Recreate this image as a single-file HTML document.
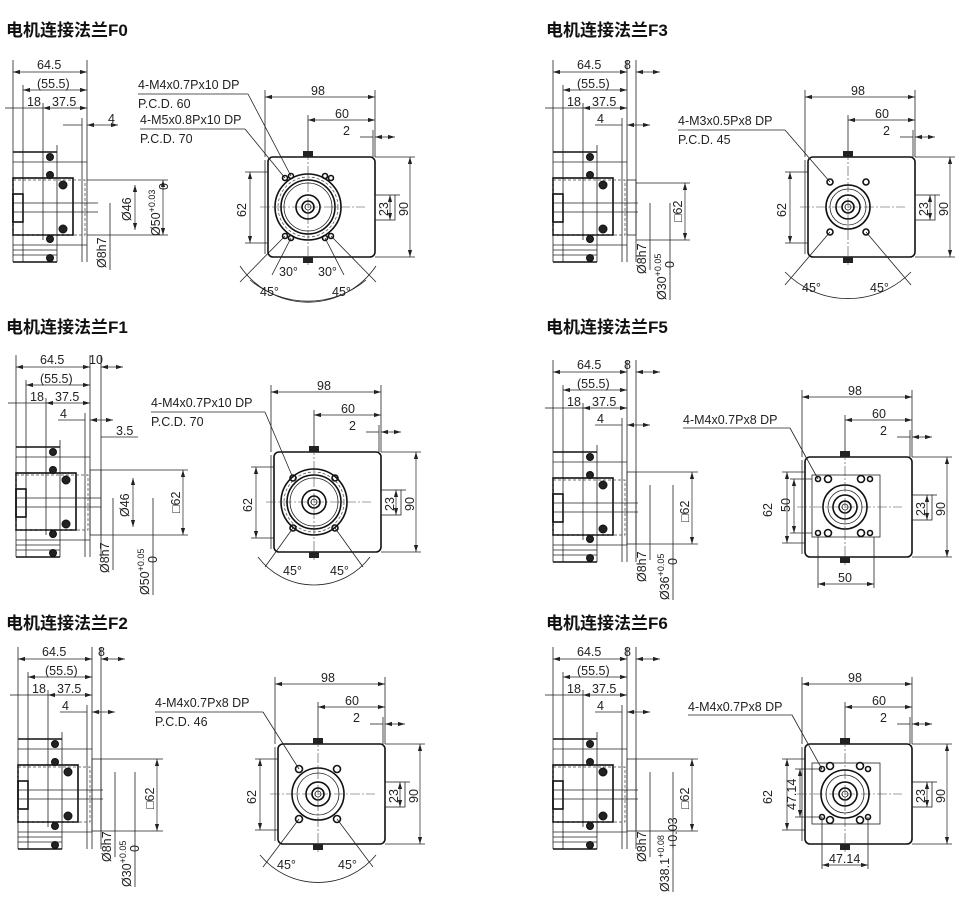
<!DOCTYPE html>
<html><head><meta charset="utf-8"><style>
html,body{margin:0;padding:0;background:#fff;}
svg{display:block;}
text{font-family:"Liberation Sans","Noto Sans CJK SC",sans-serif;font-size:12.5px;fill:#222;}
.t{font-size:17px;font-weight:bold;fill:#111;font-family:"Liberation Sans","Noto Sans CJK SC",sans-serif;}
.l{stroke:#222;stroke-width:0.8;fill:none;}
.h{stroke:#111;stroke-width:1.6;fill:none;}
.d{stroke:#444;stroke-width:0.7;fill:none;stroke-dasharray:3 2;}
.c{stroke:#444;stroke-width:0.6;fill:none;stroke-dasharray:10 2 2 2;}
.a{stroke:#222;stroke-width:0.7;fill:none;marker-start:url(#ar);marker-end:url(#ar);}
.s{fill:#222;stroke:#111;stroke-width:1;}
</style></head><body>
<svg width="978" height="906" viewBox="0 0 978 906" xmlns="http://www.w3.org/2000/svg">
<defs>
<marker id="ar" viewBox="0 0 10 10" refX="10" refY="5" markerWidth="7" markerHeight="7" orient="auto-start-reverse" markerUnits="userSpaceOnUse"><path d="M0,2 L10,5 L0,8z" fill="#222"/></marker>
<g id="side">
 <line class="l" x1="13" y1="60" x2="13" y2="262"/>
 <line class="l" x1="87" y1="60" x2="87" y2="262"/>
 <line class="l" x1="23" y1="85" x2="23" y2="262"/>
 <line class="l" x1="43" y1="103" x2="43" y2="240"/>
 <line class="l" x1="82" y1="118" x2="82" y2="262"/>
 <line class="a" x1="13" y1="72" x2="87" y2="72"/>
 <line class="a" x1="23" y1="90" x2="87" y2="90"/>
 <line class="l" x1="5" y1="108" x2="13" y2="108"/>
 <line class="a" x1="43" y1="108" x2="87" y2="108"/>
 <line class="l" x1="13" y1="108" x2="43" y2="108"/>
 <line class="h" x1="13" y1="152" x2="57" y2="152"/>
 <line class="l" x1="13" y1="162" x2="87" y2="162"/>
 <rect class="h" x="13" y="178" width="60" height="57"/>
 <rect class="d" x="13" y="180" width="72" height="55"/>
 <rect class="h" x="13" y="194" width="10" height="28"/>
 <line class="l" x1="13" y1="203" x2="98" y2="203"/>
 <line class="l" x1="13" y1="212" x2="98" y2="212"/>
 <circle class="s" cx="50" cy="157" r="3.5"/><circle class="s" cx="50" cy="175" r="3.5"/><circle class="s" cx="63" cy="185" r="4"/>
 <circle class="s" cx="63" cy="229" r="4"/><circle class="s" cx="50" cy="239" r="3.5"/><circle class="s" cx="50" cy="258" r="3.5"/>
 <line class="l" x1="13" y1="245" x2="87" y2="245"/>
 <line class="l" x1="13" y1="250" x2="57" y2="250"/>
 <line class="l" x1="13" y1="255" x2="57" y2="255"/>
 <line class="h" x1="13" y1="262" x2="57" y2="262"/>
 <line class="l" x1="57" y1="145" x2="57" y2="262"/>
</g>
<g id="box">
 <rect class="h" x="268" y="157" width="107" height="100" rx="5"/>
 <line class="l" x1="265" y1="160" x2="265" y2="254"/>
 <rect class="l" x="375" y="195" width="20" height="25"/>
 <line class="l" x1="265" y1="90" x2="265" y2="157"/>
 <line class="l" x1="375" y1="90" x2="375" y2="157"/>
 <line class="a" x1="265" y1="97" x2="375" y2="97"/>
 <line class="l" x1="308" y1="115" x2="308" y2="157"/>
 <line class="a" x1="308" y1="120" x2="375" y2="120"/>
 <line class="l" x1="373" y1="130" x2="373" y2="157"/>
 <line class="l" x1="360" y1="137" x2="373" y2="137"/>
 <line class="a" x1="395" y1="137" x2="375" y2="137"/>
 <line class="l" x1="375" y1="157" x2="415" y2="157"/>
 <line class="l" x1="375" y1="257" x2="415" y2="257"/>
 <line class="a" x1="410" y1="157" x2="410" y2="257"/>
 <line class="l" x1="395" y1="195" x2="400" y2="195"/>
 <line class="a" x1="390" y1="195" x2="390" y2="220"/>
 <line class="l" x1="245" y1="172" x2="268" y2="172"/>
 <line class="l" x1="245" y1="243" x2="268" y2="243"/>
 <line class="a" x1="250" y1="172" x2="250" y2="243"/>
 <line class="c" x1="260" y1="207" x2="365" y2="207"/>
 <line class="c" x1="308" y1="150" x2="308" y2="265"/>
 <rect x="303" y="151" width="10" height="6" fill="#222"/>
 <rect x="303" y="257" width="10" height="6" fill="#222"/>
 <circle class="h" cx="308" cy="207" r="12"/><circle class="h" cx="308" cy="207" r="6"/>
 <circle class="l" cx="308" cy="207" r="3"/>
</g>
<g id="round">
 <circle class="h" cx="308" cy="207" r="33"/><circle class="h" cx="308" cy="207" r="27"/>
 <circle class="l" cx="308" cy="207" r="24"/>
 <circle class="d" cx="308" cy="207" r="30"/>
</g>
</defs>

<!-- F0 -->
<g>
<text class="t" x="6" y="36">电机连接法兰F0</text>
<use href="#side"/><use href="#box"/><use href="#round"/>
<text x="37" y="69">64.5</text><text x="37" y="88">(55.5)</text><text x="27" y="106">18</text><text x="52" y="106">37.5</text>
<line class="l" x1="63" y1="125" x2="82" y2="125"/><line class="a" x1="118" y1="125" x2="87" y2="125"/><text x="108" y="123">4</text>
<line class="l" x1="87" y1="180" x2="168" y2="180"/><line class="l" x1="87" y1="235" x2="168" y2="235"/>
<line class="a" x1="135" y1="185" x2="135" y2="230"/><line class="a" x1="163" y1="180" x2="163" y2="235"/>
<line class="l" x1="110" y1="203" x2="110" y2="270"/>
<text transform="translate(131,221) rotate(-90)">Ø46</text>
<text transform="translate(160,236) rotate(-90)">Ø50<tspan font-size="9" dy="-5">+0.03</tspan></text>
<text transform="translate(168,190) rotate(-90)" font-size="9">0</text>
<text transform="translate(106,268) rotate(-90)">Ø8h7</text>
<circle class="h" cx="285" cy="178" r="2.5"/><circle class="h" cx="331" cy="178" r="2.5"/><circle class="h" cx="285" cy="236" r="2.5"/><circle class="h" cx="331" cy="236" r="2.5"/>
<circle class="h" cx="291" cy="176" r="2.5"/><circle class="h" cx="325" cy="176" r="2.5"/><circle class="h" cx="291" cy="238" r="2.5"/><circle class="h" cx="325" cy="238" r="2.5"/>
<text x="138" y="89">4-M4x0.7Px10 DP</text><text x="138" y="108">P.C.D. 60</text>
<text x="140" y="124">4-M5x0.8Px10 DP</text><text x="140" y="143">P.C.D. 70</text>
<line class="l" x1="138" y1="94" x2="248" y2="94"/><line class="l" x1="248" y1="94" x2="291" y2="176"/>
<line class="l" x1="140" y1="129" x2="245" y2="129"/><line class="l" x1="245" y1="129" x2="285" y2="178"/>
<path class="l" d="M240,266 A82,82 0 0 0 376,266"/><path class="l" d="M250,280 A90,90 0 0 0 366,280"/>
<line class="l" x1="285" y1="236" x2="240" y2="282"/><line class="l" x1="331" y1="236" x2="376" y2="282"/>
<line class="l" x1="291" y1="238" x2="272" y2="275"/><line class="l" x1="325" y1="238" x2="344" y2="275"/>
<text x="279" y="276">30°</text><text x="318" y="276">30°</text><text x="260" y="296">45°</text><text x="332" y="296">45°</text>
<text x="311" y="95">98</text><text x="335" y="118">60</text><text x="343" y="135">2</text>
<text transform="translate(246,217) rotate(-90)">62</text><text transform="translate(388,216) rotate(-90)">23</text><text transform="translate(408,216) rotate(-90)">90</text>
</g>

<!-- F3 -->
<g transform="translate(540,0)">
<text class="t" x="6" y="36">电机连接法兰F3</text>
<use href="#side"/><use href="#box"/>
<line class="l" x1="96" y1="60" x2="96" y2="262"/>
<rect class="l" x="87" y="180" width="9" height="55"/>
<line class="a" x1="120" y1="72" x2="96" y2="72"/>
<text x="37" y="69">64.5</text><text x="84" y="69">8</text><text x="37" y="88">(55.5)</text><text x="27" y="106">18</text><text x="52" y="106">37.5</text>
<line class="l" x1="55" y1="125" x2="82" y2="125"/><line class="a" x1="110" y1="125" x2="87" y2="125"/><text x="57" y="123">4</text>
<line class="l" x1="96" y1="183" x2="150" y2="183"/><line class="l" x1="96" y1="240" x2="150" y2="240"/>
<line class="a" x1="145" y1="183" x2="145" y2="240"/>
<line class="l" x1="110" y1="203" x2="110" y2="270"/><line class="l" x1="130" y1="203" x2="130" y2="300"/>
<text transform="translate(142,222) rotate(-90)">□62</text>
<text transform="translate(106,274) rotate(-90)">Ø8h7</text>
<text transform="translate(126,300) rotate(-90)">Ø30<tspan font-size="9" dy="-5">+0.05</tspan></text>
<text transform="translate(134,268) rotate(-90)" font-size="9">0</text>
<circle class="h" cx="308" cy="207" r="22"/><circle class="l" cx="308" cy="207" r="18"/>
<circle class="h" cx="290" cy="182" r="3"/><circle class="h" cx="326" cy="182" r="3"/><circle class="h" cx="290" cy="232" r="3"/><circle class="h" cx="326" cy="232" r="3"/>
<text x="138" y="125">4-M3x0.5Px8 DP</text><text x="138" y="144">P.C.D. 45</text>
<line class="l" x1="138" y1="130" x2="245" y2="130"/><line class="l" x1="245" y1="130" x2="290" y2="182"/>
<path class="l" d="M245,272 A88,88 0 0 0 371,272"/>
<line class="l" x1="290" y1="232" x2="245" y2="285"/><line class="l" x1="326" y1="232" x2="371" y2="285"/>
<text x="262" y="292">45°</text><text x="330" y="292">45°</text>
<text x="311" y="95">98</text><text x="335" y="118">60</text><text x="343" y="135">2</text>
<text transform="translate(246,217) rotate(-90)">62</text><text transform="translate(388,216) rotate(-90)">23</text><text transform="translate(408,216) rotate(-90)">90</text>
</g>

<!-- F1 -->
<g transform="translate(3,295)">
<text class="t" x="3" y="38">电机连接法兰F1</text>
<use href="#side"/><use href="#box" transform="translate(3,0)"/><use href="#round" transform="translate(3,0)"/>
<line class="l" x1="98" y1="60" x2="98" y2="262"/>
<rect class="l" x="87" y="175" width="11" height="65"/>
<line class="a" x1="120" y1="72" x2="98" y2="72"/>
<text x="37" y="69">64.5</text><text x="86" y="69">10</text><text x="37" y="88">(55.5)</text><text x="27" y="106">18</text><text x="52" y="106">37.5</text>
<line class="l" x1="55" y1="125" x2="82" y2="125"/><line class="a" x1="110" y1="125" x2="87" y2="125"/><text x="57" y="123">4</text>
<line class="l" x1="98" y1="142" x2="135" y2="142"/><text x="113" y="140">3.5</text>
<line class="l" x1="98" y1="175" x2="185" y2="175"/><line class="l" x1="98" y1="240" x2="185" y2="240"/>
<line class="a" x1="180" y1="175" x2="180" y2="240"/><line class="a" x1="130" y1="183" x2="130" y2="232"/>
<line class="l" x1="110" y1="203" x2="110" y2="275"/><line class="l" x1="150" y1="203" x2="150" y2="300"/>
<text transform="translate(126,222) rotate(-90)">Ø46</text>
<text transform="translate(177,218) rotate(-90)">□62</text>
<text transform="translate(106,278) rotate(-90)">Ø8h7</text>
<text transform="translate(146,300) rotate(-90)">Ø50<tspan font-size="9" dy="-5">+0.05</tspan></text>
<text transform="translate(154,268) rotate(-90)" font-size="9">0</text>
<circle class="h" cx="290" cy="183" r="3"/><circle class="h" cx="332" cy="183" r="3"/><circle class="h" cx="290" cy="233" r="3"/><circle class="h" cx="332" cy="233" r="3"/>
<text x="148" y="112">4-M4x0.7Px10 DP</text><text x="148" y="131">P.C.D. 70</text>
<line class="l" x1="148" y1="117" x2="262" y2="117"/><line class="l" x1="262" y1="117" x2="290" y2="183"/>
<path class="l" d="M255,262 A70,70 0 0 0 367,262"/>
<line class="l" x1="290" y1="233" x2="262" y2="272"/><line class="l" x1="332" y1="233" x2="360" y2="272"/>
<text x="280" y="280">45°</text><text x="327" y="280">45°</text>
<text x="314" y="95">98</text><text x="338" y="118">60</text><text x="346" y="135">2</text>
<text transform="translate(249,217) rotate(-90)">62</text><text transform="translate(391,216) rotate(-90)">23</text><text transform="translate(411,216) rotate(-90)">90</text>
</g>

<!-- F5 -->
<g transform="translate(540,300)">
<text class="t" x="6" y="33">电机连接法兰F5</text>
<use href="#side"/><use href="#box" transform="translate(-3,0)"/>
<line class="l" x1="96" y1="60" x2="96" y2="262"/>
<rect class="l" x="87" y="172" width="9" height="72"/>
<line class="a" x1="120" y1="72" x2="96" y2="72"/>
<text x="37" y="69">64.5</text><text x="84" y="69">8</text><text x="37" y="88">(55.5)</text><text x="27" y="106">18</text><text x="52" y="106">37.5</text>
<line class="l" x1="55" y1="125" x2="82" y2="125"/><line class="a" x1="110" y1="125" x2="87" y2="125"/><text x="57" y="123">4</text>
<line class="l" x1="96" y1="172" x2="158" y2="172"/><line class="l" x1="96" y1="244" x2="158" y2="244"/>
<line class="a" x1="152" y1="172" x2="152" y2="244"/>
<line class="l" x1="110" y1="185" x2="110" y2="260"/><line class="l" x1="133" y1="185" x2="133" y2="300"/>
<text transform="translate(149,222) rotate(-90)">□62</text>
<text transform="translate(106,282) rotate(-90)">Ø8h7</text>
<text transform="translate(129,300) rotate(-90)">Ø36<tspan font-size="9" dy="-5">+0.05</tspan></text>
<text transform="translate(137,265) rotate(-90)" font-size="9">0</text>
<rect class="l" x="272" y="175" width="68" height="62"/>
<circle class="h" cx="305" cy="207" r="22"/><circle class="l" cx="305" cy="207" r="17"/>
<circle class="h" cx="278" cy="179" r="2.5"/><circle class="h" cx="330" cy="179" r="2.5"/><circle class="h" cx="278" cy="233" r="2.5"/><circle class="h" cx="330" cy="233" r="2.5"/>
<circle class="h" cx="288" cy="179" r="3.5"/><circle class="h" cx="321" cy="179" r="3.5"/><circle class="h" cx="288" cy="233" r="3.5"/><circle class="h" cx="321" cy="233" r="3.5"/>
<text x="143" y="124">4-M4x0.7Px8 DP</text>
<line class="l" x1="143" y1="128" x2="250" y2="128"/><line class="l" x1="250" y1="128" x2="278" y2="179"/>
<line class="l" x1="250" y1="179" x2="272" y2="179"/><line class="l" x1="250" y1="233" x2="272" y2="233"/>
<line class="a" x1="254" y1="179" x2="254" y2="233"/>
<line class="l" x1="278" y1="237" x2="278" y2="288"/><line class="l" x1="334" y1="237" x2="334" y2="288"/>
<line class="a" x1="278" y1="284" x2="334" y2="284"/>
<text x="298" y="282">50</text>
<text transform="translate(250,212) rotate(-90)">50</text>
<text x="308" y="95">98</text><text x="332" y="118">60</text><text x="340" y="135">2</text>
<text transform="translate(232,217) rotate(-90)">62</text><text transform="translate(385,216) rotate(-90)">23</text><text transform="translate(405,216) rotate(-90)">90</text>
</g>

<!-- F2 -->
<g transform="translate(5,587)">
<text class="t" x="1" y="42">电机连接法兰F2</text>
<use href="#side"/><use href="#box" transform="translate(5,0)"/>
<line class="l" x1="96" y1="60" x2="96" y2="262"/>
<rect class="l" x="87" y="172" width="9" height="72"/>
<line class="a" x1="120" y1="72" x2="96" y2="72"/>
<text x="37" y="69">64.5</text><text x="93" y="69">8</text><text x="40" y="88">(55.5)</text><text x="27" y="106">18</text><text x="52" y="106">37.5</text>
<line class="l" x1="55" y1="125" x2="82" y2="125"/><line class="a" x1="110" y1="125" x2="87" y2="125"/><text x="57" y="123">4</text>
<line class="l" x1="96" y1="172" x2="158" y2="172"/><line class="l" x1="96" y1="244" x2="158" y2="244"/>
<line class="a" x1="152" y1="172" x2="152" y2="244"/>
<line class="l" x1="110" y1="185" x2="110" y2="270"/><line class="l" x1="130" y1="185" x2="130" y2="300"/>
<text transform="translate(149,222) rotate(-90)">□62</text>
<text transform="translate(106,275) rotate(-90)">Ø8h7</text>
<text transform="translate(126,300) rotate(-90)">Ø30<tspan font-size="9" dy="-5">+0.05</tspan></text>
<text transform="translate(134,265) rotate(-90)" font-size="9">0</text>
<circle class="h" cx="313" cy="207" r="26"/><circle class="l" cx="313" cy="207" r="21"/>
<circle class="h" cx="294" cy="182" r="3.5"/><circle class="h" cx="332" cy="182" r="3.5"/><circle class="h" cx="294" cy="232" r="3.5"/><circle class="h" cx="332" cy="232" r="3.5"/>
<text x="150" y="120">4-M4x0.7Px8 DP</text><text x="150" y="139">P.C.D. 46</text>
<line class="l" x1="150" y1="125" x2="258" y2="125"/><line class="l" x1="258" y1="125" x2="294" y2="182"/>
<path class="l" d="M255,268 A75,75 0 0 0 371,268"/>
<line class="l" x1="294" y1="232" x2="258" y2="280"/><line class="l" x1="332" y1="232" x2="368" y2="280"/>
<text x="272" y="282">45°</text><text x="333" y="282">45°</text>
<text x="316" y="95">98</text><text x="340" y="118">60</text><text x="348" y="135">2</text>
<text transform="translate(251,217) rotate(-90)">62</text><text transform="translate(393,216) rotate(-90)">23</text><text transform="translate(413,216) rotate(-90)">90</text>
</g>

<!-- F6 -->
<g transform="translate(540,587)">
<text class="t" x="6" y="42">电机连接法兰F6</text>
<use href="#side"/><use href="#box" transform="translate(-3,0)"/>
<line class="l" x1="96" y1="60" x2="96" y2="262"/>
<rect class="l" x="87" y="172" width="9" height="72"/>
<line class="a" x1="120" y1="72" x2="96" y2="72"/>
<text x="37" y="69">64.5</text><text x="84" y="69">8</text><text x="37" y="88">(55.5)</text><text x="27" y="106">18</text><text x="52" y="106">37.5</text>
<line class="l" x1="55" y1="125" x2="82" y2="125"/><line class="a" x1="110" y1="125" x2="87" y2="125"/><text x="57" y="123">4</text>
<line class="l" x1="96" y1="172" x2="158" y2="172"/><line class="l" x1="96" y1="244" x2="158" y2="244"/>
<line class="a" x1="152" y1="172" x2="152" y2="244"/>
<line class="l" x1="110" y1="185" x2="110" y2="270"/><line class="l" x1="133" y1="185" x2="133" y2="305"/>
<text transform="translate(149,222) rotate(-90)">□62</text>
<text transform="translate(106,275) rotate(-90)">Ø8h7</text>
<text transform="translate(129,305) rotate(-90)">Ø38.1<tspan font-size="9" dy="-5">+0.08</tspan></text>
<text transform="translate(137,262) rotate(-90)" font-size="9">+0.03</text>
<rect class="l" x="272" y="176" width="68" height="61"/>
<circle class="h" cx="305" cy="207" r="24"/><circle class="l" cx="305" cy="207" r="19"/>
<circle class="h" cx="282" cy="182" r="2.5"/><circle class="h" cx="328" cy="182" r="2.5"/><circle class="h" cx="282" cy="230" r="2.5"/><circle class="h" cx="328" cy="230" r="2.5"/>
<circle class="h" cx="290" cy="179" r="3.5"/><circle class="h" cx="320" cy="179" r="3.5"/><circle class="h" cx="290" cy="233" r="3.5"/><circle class="h" cx="320" cy="233" r="3.5"/>
<text x="148" y="124">4-M4x0.7Px8 DP</text>
<line class="l" x1="148" y1="128" x2="252" y2="128"/><line class="l" x1="252" y1="128" x2="282" y2="182"/>
<line class="l" x1="255" y1="182" x2="282" y2="182"/><line class="l" x1="255" y1="230" x2="282" y2="230"/>
<line class="a" x1="260" y1="182" x2="260" y2="230"/>
<line class="l" x1="282" y1="230" x2="282" y2="282"/><line class="l" x1="328" y1="230" x2="328" y2="282"/>
<line class="a" x1="282" y1="278" x2="328" y2="278"/>
<text x="289" y="276">47.14</text>
<text transform="translate(256,223) rotate(-90)">47.14</text>
<text x="308" y="95">98</text><text x="332" y="118">60</text><text x="340" y="135">2</text>
<text transform="translate(232,217) rotate(-90)">62</text><text transform="translate(385,216) rotate(-90)">23</text><text transform="translate(405,216) rotate(-90)">90</text>
</g>
</svg>
</body></html>
